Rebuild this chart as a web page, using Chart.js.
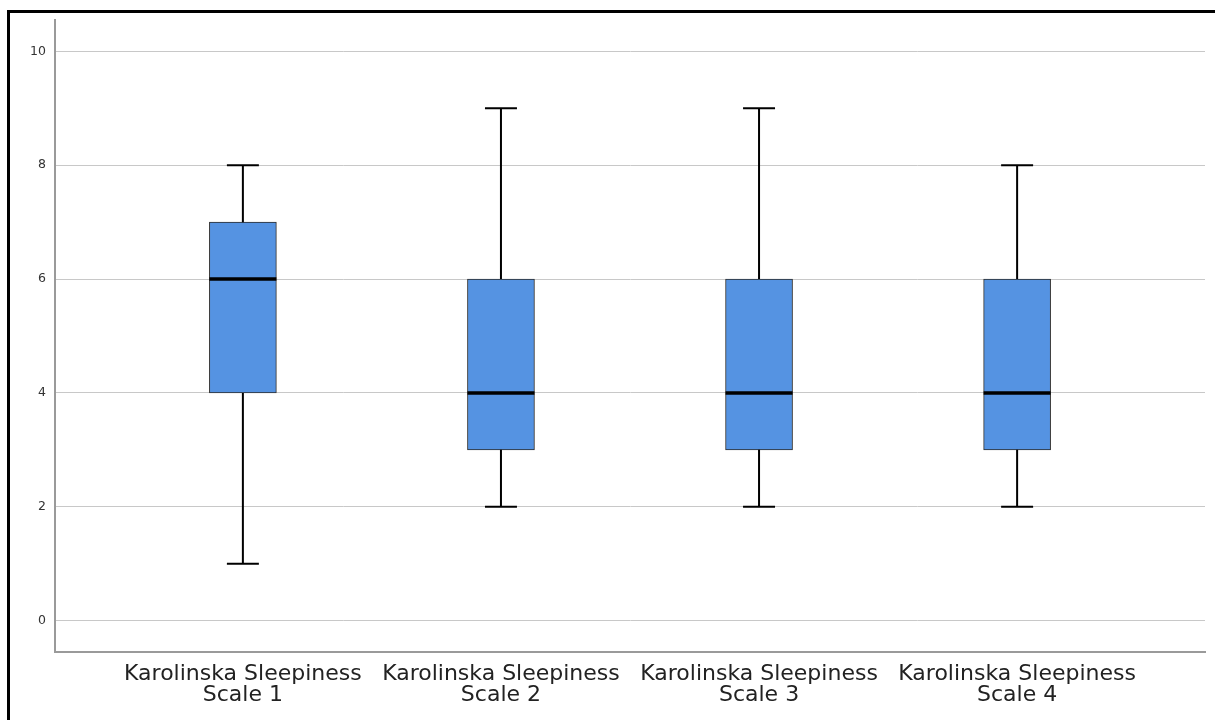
<!DOCTYPE html>
<html lang="en">

<head>
    <meta charset="UTF-8">
    <title>Karolinska Sleepiness Scale</title>
    <script src="https://cdn.jsdelivr.net/npm/chart.js"></script>
    <style>
        body { margin: 0; background: #fff; overflow: hidden; }
        #frame { position: absolute; left: 7px; top: 10px; width: 1240px; height: 760px; border: 3px solid #000; box-sizing: border-box; }
        #wrap { position: absolute; left: 0; top: 0; width: 1215px; height: 720px; }
    </style>
</head>

<body>
    <div id="frame"></div>
    <div id="wrap"><canvas id="myChart" width="1215" height="720"></canvas></div>

    <script>
        const categories = [
            ['Karolinska Sleepiness', 'Scale 1'],
            ['Karolinska Sleepiness', 'Scale 2'],
            ['Karolinska Sleepiness', 'Scale 3'],
            ['Karolinska Sleepiness', 'Scale 4']
        ];
        const minValues = [1, 2, 2, 2];
        const q1Values = [4, 3, 3, 3];
        const medianValues = [6, 4, 4, 4];
        const q3Values = [7, 6, 6, 6];
        const maxValues = [8, 9, 9, 8];
        const yTicks = [0, 2, 4, 6, 8, 10];

        // whiskers and median lines on top of the floating bars
        const boxExtras = {
            id: 'boxExtras',
            afterDatasetsDraw(chart) {
                const ctx = chart.ctx;
                const x = chart.scales.x;
                const y = chart.scales.y;
                const meta = chart.getDatasetMeta(0);
                ctx.save();
                ctx.strokeStyle = '#000';
                categories.forEach((c, i) => {
                    const cx = x.getPixelForValue(i);
                    const bar = meta.data[i];
                    const half = bar.width / 2;
                    const cap = 16;
                    ctx.lineWidth = 2;
                    ctx.beginPath();
                    ctx.moveTo(cx, y.getPixelForValue(q3Values[i]));
                    ctx.lineTo(cx, y.getPixelForValue(maxValues[i]));
                    ctx.moveTo(cx - cap, y.getPixelForValue(maxValues[i]));
                    ctx.lineTo(cx + cap, y.getPixelForValue(maxValues[i]));
                    ctx.moveTo(cx, y.getPixelForValue(q1Values[i]));
                    ctx.lineTo(cx, y.getPixelForValue(minValues[i]));
                    ctx.moveTo(cx - cap, y.getPixelForValue(minValues[i]));
                    ctx.lineTo(cx + cap, y.getPixelForValue(minValues[i]));
                    ctx.stroke();
                    ctx.lineWidth = 3.5;
                    ctx.beginPath();
                    ctx.moveTo(cx - half, y.getPixelForValue(medianValues[i]));
                    ctx.lineTo(cx + half, y.getPixelForValue(medianValues[i]));
                    ctx.stroke();
                });
                ctx.restore();
            }
        };

        const ctx = document.getElementById('myChart').getContext('2d');
        const boxChart = new Chart(ctx, {
            type: 'bar',
            data: {
                datasets: [{
                    data: categories.map((c, i) => ({ x: i, y: [q1Values[i], q3Values[i]] })),
                    backgroundColor: '#5593e2',
                    borderColor: '#2b2b2b',
                    borderWidth: 1,
                    borderSkipped: false,
                    barThickness: 67
                }]
            },
            options: {
                responsive: false,
                animation: false,
                layout: { padding: { top: 20, right: 10, left: 0, bottom: 0 } },
                plugins: { legend: { display: false }, tooltip: { enabled: false } },
                scales: {
                    x: {
                        type: 'linear',
                        offset: false,
                        min: -0.728,
                        max: 3.728,
                        afterBuildTicks: scale => { scale.ticks = categories.map((c, i) => ({ value: i })); },
                        afterFit: scale => { scale.height = 68; },
                        grid: { display: false, drawTicks: false, offset: false },
                        border: { color: '#9a9a9a', width: 2 },
                        ticks: {
                            autoSkip: false,
                            maxRotation: 0,
                            padding: 12,
                            color: '#222',
                            font: { family: 'DejaVu Sans', size: 22, lineHeight: 0.96 },
                            callback: v => categories[v]
                        }
                    },
                    y: {
                        min: -0.55,
                        max: 10.55,
                        afterBuildTicks: scale => { scale.ticks = yTicks.map(v => ({ value: v })); },
                        afterFit: scale => { scale.width = 55; },
                        grid: { color: '#c8c8c8', lineWidth: 1, drawTicks: false },
                        border: { color: '#9a9a9a', width: 2 },
                        ticks: {
                            padding: 9,
                            color: '#333',
                            font: { family: 'DejaVu Sans', size: 12.5 }
                        }
                    }
                }
            },
            plugins: [boxExtras]
        });
    </script>
</body>

</html>
